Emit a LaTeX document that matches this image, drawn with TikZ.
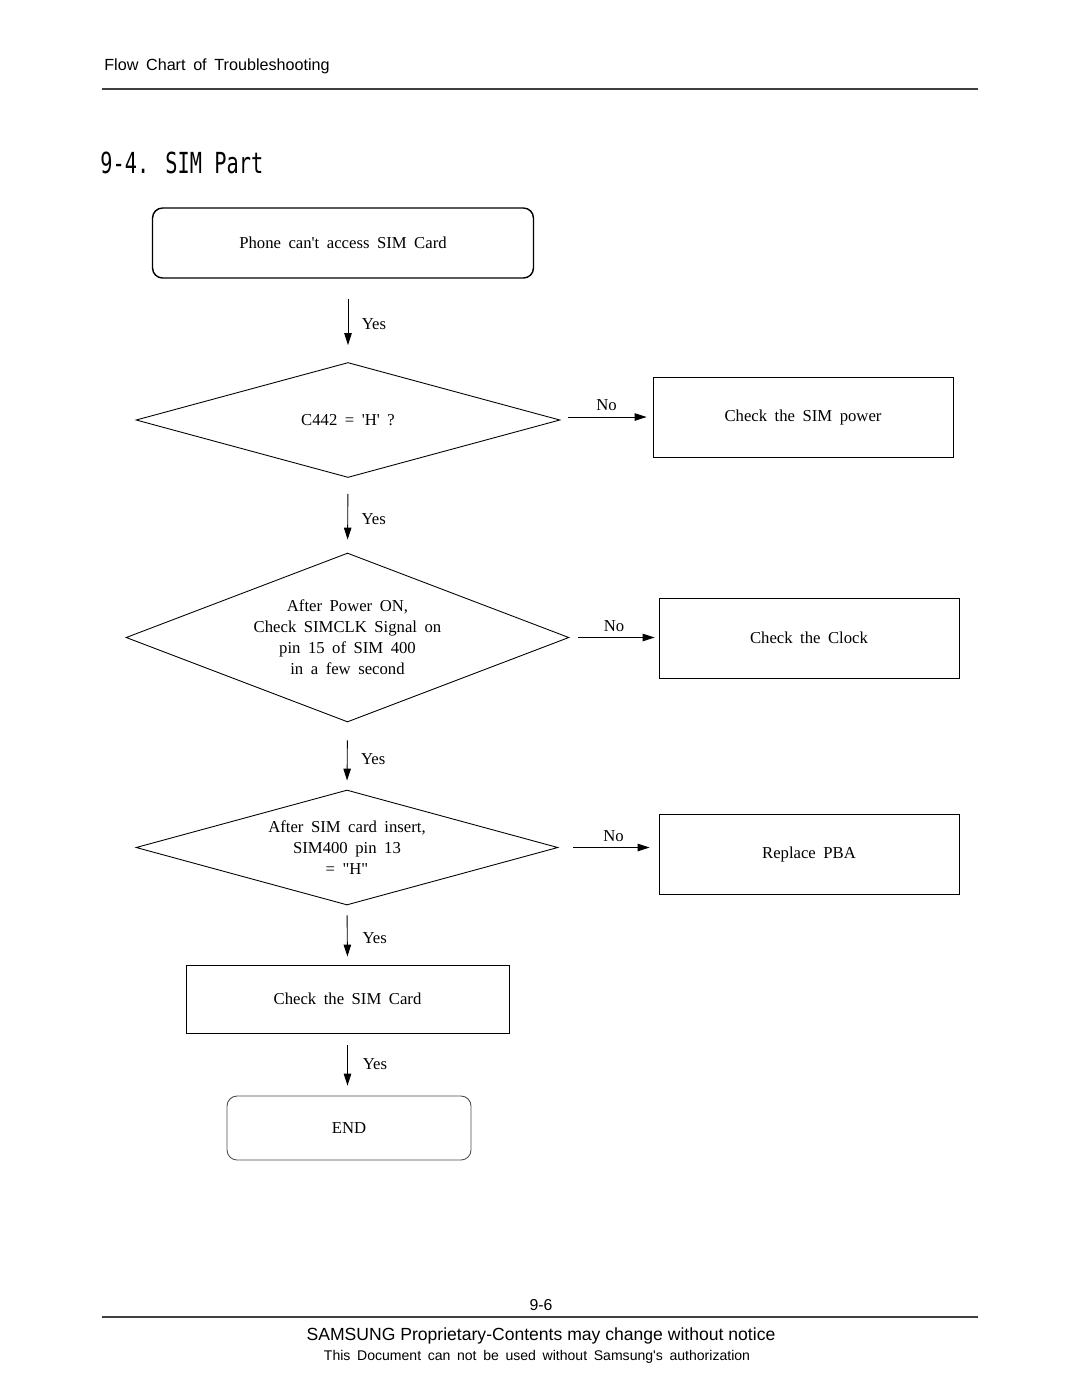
\documentclass[tikz,border=0pt]{standalone}
\usepackage{fontspec}
\setmainfont[WordSpace=1.8]{Liberation Serif}
\setsansfont[WordSpace=1.7]{Liberation Sans}
\newfontfamily\plainsans{Liberation Sans}
\newfontfamily\titlefont[FakeStretch=0.7]{DejaVu Sans Mono}
\usetikzlibrary{shapes.geometric,arrows.meta}
\tikzstyle{arrow} = [line width=0.5pt,-{Triangle[length=2.4mm,width=1.5mm]}]

\begin{document}
\begin{tikzpicture}[x=0.02cm,y=-0.02cm]

\tikzstyle{t} = [rectangle, rounded corners=2mm, draw, line width=0.8pt, minimum width=7.62cm, minimum height=1.4cm, font=\fontsize{9.5}{11.5}\selectfont]
\tikzstyle{b} = [rectangle, draw, line width=0.5pt, minimum width=6cm, minimum height=1.6cm, font=\fontsize{9.5}{11.5}\selectfont]
\tikzstyle{d} = [diamond, draw, line width=0.5pt, inner sep=0pt, align=center, font=\fontsize{9.5}{12}\selectfont]
\tikzstyle{lbl} = [font=\fontsize{9.5}{11.5}\selectfont]
\tikzstyle{rule} = [line width=0.6pt, black!75]

\useasboundingbox (0,0) rectangle (1080,1397);

% header
\node[anchor=west, inner sep=0pt, font=\sffamily\fontsize{9.2}{11}\selectfont](hd)at(104,66){Flow Chart of Troubleshooting};
\draw[rule](102,89) -- (978,89);
\node[anchor=west, inner sep=0pt, font=\titlefont\fontsize{16.5}{18}\selectfont](ttl)at(100,163){9-4. SIM Part};

% flow
\node[t](P)at(343,243){Phone can\textquotesingle t access SIM Card};
\node[d, minimum width=8.48cm, minimum height=2.3cm, aspect=3.69](C1)at(348,420){C442 = \textquotesingle H\textquotesingle\ ?};
\node[b](S1)at(803,417){Check the SIM power};
\node[d, minimum width=8.86cm, minimum height=3.38cm, aspect=2.62](C2)at(347.5,637.5){After Power ON,\\Check SIMCLK Signal on\\pin 15 of SIM 400\\in a few second};
\node[b](S2)at(809,638){Check the Clock};
\node[d, minimum width=8.44cm, minimum height=2.3cm, aspect=3.67](C3)at(347,847.5){After SIM card insert,\\SIM400 pin 13\\= \textquotedbl H\textquotedbl};
\node[b](S3)at(809,854){Replace PBA};
\node[b, minimum width=6.46cm, minimum height=1.36cm](K)at(347.5,999){Check the SIM Card};
\node[t, minimum width=4.88cm, minimum height=1.28cm, line width=0.5pt, draw=black!70](E)at(349,1128){END};

\draw[arrow, shorten <=0.4cm, shorten >=0.34cm](P.south -| C1.north) -- node[lbl, right=1.5mm, pos=0.55]{Yes} (C1.north);
\draw[arrow, shorten <=0.32cm, shorten >=0.26cm](C1.south) -- node[lbl, right=1.5mm, pos=0.55]{Yes} (C2.north);
\draw[arrow, shorten <=0.36cm, shorten >=0.18cm](C2.south) -- node[lbl, right=1.5mm, pos=0.55]{Yes} (C3.north);
\draw[arrow, shorten <=0.2cm, shorten >=0.16cm](C3.south) -- node[lbl, right=1.8mm, pos=0.55]{Yes} (K.north);
\draw[arrow, shorten <=0.24cm, shorten >=0.2cm](K.south) -- node[lbl, right=1.8mm]{Yes} (K.south |- E.north);

\draw[arrow, shorten <=0.16cm, shorten >=0.12cm](C1.east |- S1.west) -- node[lbl, above]{No} (S1.west);
\draw[arrow, shorten <=0.18cm, shorten >=0.08cm](C2.east) -- node[lbl, above]{No} (C2.east -| S2.west);
\draw[arrow, shorten <=0.3cm, shorten >=0.18cm](C3.east) -- node[lbl, above, xshift=1mm]{No} (C3.east -| S3.west);

% footer
\node[font=\sffamily\fontsize{9}{11}\selectfont](pg)at(541,1305){9-6};
\draw[rule](102,1317) -- (978,1317);
\node[font=\plainsans\fontsize{10}{12}\selectfont](ft1)at(541,1336){SAMSUNG Proprietary-Contents may change without notice};
\node[font=\sffamily\fontsize{8}{10}\selectfont](ft2)at(537,1357){This Document can not be used without Samsung\textquotesingle s authorization};

\end{tikzpicture}
\end{document}
